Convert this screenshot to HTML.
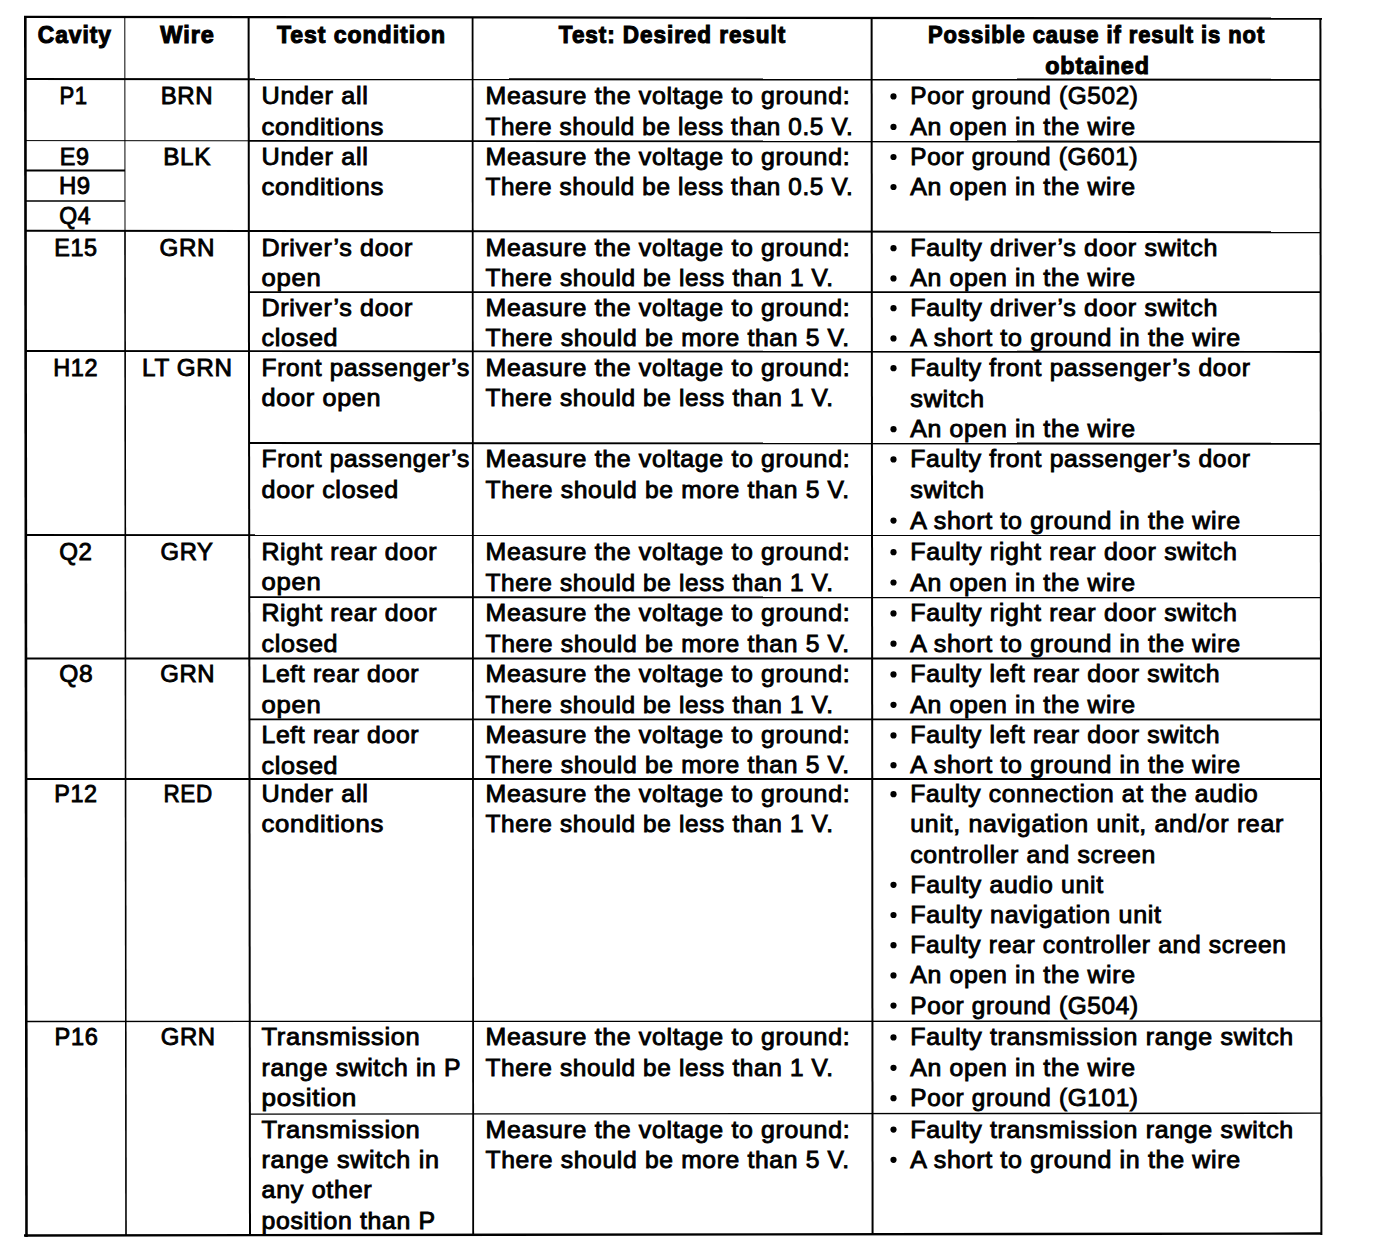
<!DOCTYPE html><html><head><meta charset="utf-8"><style>html,body{margin:0;padding:0;background:#fff;width:1376px;height:1254px;overflow:hidden}svg{display:block}text{font-family:"Liberation Sans",sans-serif;fill:#000;stroke:#000}</style></head><body>
<svg width="1376" height="1254" viewBox="0 0 1376 1254">
<g stroke="#000" fill="none">
<line x1="24" y1="16.8" x2="1322" y2="18.6" stroke-width="2.2"/>
<line x1="25" y1="79.0" x2="1321" y2="79.8" stroke-width="2.0"/>
<line x1="25" y1="140.6" x2="249" y2="140.8" stroke-width="1.0"/>
<line x1="249" y1="140.8" x2="1321" y2="141.8" stroke-width="1.8"/>
<line x1="25" y1="170.6" x2="125" y2="170.6" stroke-width="2.0"/>
<line x1="25" y1="201.0" x2="125" y2="201.0" stroke-width="1.6"/>
<line x1="25" y1="230.8" x2="1321" y2="232.2" stroke-width="2.0"/>
<line x1="249" y1="292.2" x2="1321" y2="292.2" stroke-width="1.8"/>
<line x1="25" y1="351.0" x2="1321" y2="352.0" stroke-width="1.8"/>
<line x1="249" y1="443.0" x2="1321" y2="443.8" stroke-width="1.9"/>
<line x1="25" y1="535.0" x2="1321" y2="535.2" stroke-width="1.8"/>
<line x1="249" y1="597.2" x2="1321" y2="597.4" stroke-width="1.8"/>
<line x1="25" y1="658.5" x2="1321" y2="658.5" stroke-width="1.8"/>
<line x1="249" y1="719.3" x2="1321" y2="719.5" stroke-width="1.8"/>
<line x1="25" y1="779.0" x2="1321" y2="779.0" stroke-width="1.8"/>
<line x1="25" y1="1021.5" x2="1321" y2="1021.2" stroke-width="1.3"/>
<line x1="250" y1="1114.2" x2="1321" y2="1113.2" stroke-width="1.3"/>
<line x1="24" y1="1235.5" x2="1322" y2="1233.5" stroke-width="2.4"/>
<line x1="25.3" y1="16" x2="26.5" y2="1237" stroke-width="2.6"/>
<line x1="124.8" y1="17" x2="125.0" y2="231" stroke-width="1.0"/>
<line x1="125.0" y1="231" x2="126.0" y2="1236" stroke-width="1.6"/>
<line x1="248.6" y1="17" x2="250.0" y2="1236" stroke-width="2.0"/>
<line x1="472.6" y1="17" x2="473.2" y2="1236" stroke-width="1.8"/>
<line x1="871.6" y1="18" x2="872.6" y2="1235" stroke-width="2.0"/>
<line x1="1320.4" y1="18" x2="1321.4" y2="1235" stroke-width="2.0"/>
</g><g fill="#000">
<circle cx="893.5" cy="96.4" r="3.1"/>
<circle cx="893.5" cy="126.9" r="3.1"/>
<circle cx="893.5" cy="157.0" r="3.1"/>
<circle cx="893.5" cy="187.0" r="3.1"/>
<circle cx="893.5" cy="248.2" r="3.1"/>
<circle cx="893.5" cy="278.4" r="3.1"/>
<circle cx="893.5" cy="308.2" r="3.1"/>
<circle cx="893.5" cy="338.4" r="3.1"/>
<circle cx="893.5" cy="368.2" r="3.1"/>
<circle cx="893.5" cy="429.2" r="3.1"/>
<circle cx="893.5" cy="459.4" r="3.1"/>
<circle cx="893.5" cy="520.6" r="3.1"/>
<circle cx="893.5" cy="552.2" r="3.1"/>
<circle cx="893.5" cy="582.5" r="3.1"/>
<circle cx="893.5" cy="613.4" r="3.1"/>
<circle cx="893.5" cy="643.7" r="3.1"/>
<circle cx="893.5" cy="674.4" r="3.1"/>
<circle cx="893.5" cy="704.8" r="3.1"/>
<circle cx="893.5" cy="735.4" r="3.1"/>
<circle cx="893.5" cy="765.2" r="3.1"/>
<circle cx="893.5" cy="794.2" r="3.1"/>
<circle cx="893.5" cy="884.8" r="3.1"/>
<circle cx="893.5" cy="915.0" r="3.1"/>
<circle cx="893.5" cy="945.2" r="3.1"/>
<circle cx="893.5" cy="975.4" r="3.1"/>
<circle cx="893.5" cy="1005.6" r="3.1"/>
<circle cx="893.5" cy="1037.4" r="3.1"/>
<circle cx="893.5" cy="1067.8" r="3.1"/>
<circle cx="893.5" cy="1098.2" r="3.1"/>
<circle cx="893.5" cy="1129.6" r="3.1"/>
<circle cx="893.5" cy="1159.8" r="3.1"/>
</g>
<g font-size="26" stroke-width="0.95">
<text transform="translate(74.85,42.50) scale(0.9500,1.0)" id="t0" text-anchor="middle" font-weight="bold" font-size="24" stroke-width="1.1" letter-spacing="1.0">Cavity</text>
<text transform="translate(187.60,42.50) scale(0.9782,1.0)" id="t1" text-anchor="middle" font-weight="bold" font-size="24" stroke-width="1.1" letter-spacing="1.0">Wire</text>
<text transform="translate(361.50,42.50) scale(0.9598,1.0)" id="t2" text-anchor="middle" font-weight="bold" font-size="24" stroke-width="1.1" letter-spacing="1.0">Test condition</text>
<text transform="translate(672.50,42.50) scale(0.9383,1.0)" id="t3" text-anchor="middle" font-weight="bold" font-size="24" stroke-width="1.1" letter-spacing="1.0">Test: Desired result</text>
<text transform="translate(1096.55,43.30) scale(0.9153,1.0)" id="t4" text-anchor="middle" font-weight="bold" font-size="24" stroke-width="1.1" letter-spacing="1.0">Possible cause if result is not</text>
<text transform="translate(1097.55,74.20) scale(0.9708,1.0)" id="t5" text-anchor="middle" font-weight="bold" font-size="24" stroke-width="1.1" letter-spacing="1.0">obtained</text>
<text transform="translate(73.55,104.40) scale(0.8500,0.95)" id="t6" text-anchor="middle" letter-spacing="0.7">P1</text>
<text transform="translate(187.00,104.40) scale(0.9245,0.95)" id="t7" text-anchor="middle" letter-spacing="0.7">BRN</text>
<text transform="translate(261.50,104.40) scale(0.9705,0.95)" id="t8" letter-spacing="0.7">Under all</text>
<text transform="translate(261.50,134.60) scale(0.9886,0.95)" id="t9" letter-spacing="0.7">conditions</text>
<text transform="translate(485.50,104.40) scale(0.9577,0.95)" id="t10" letter-spacing="0.7">Measure the voltage to ground:</text>
<text transform="translate(485.50,134.70) scale(0.9336,0.95)" id="t11" letter-spacing="0.7">There should be less than 0.5 V.</text>
<text transform="translate(910.30,104.40) scale(0.9367,0.95)" id="t12" letter-spacing="0.7">Poor ground (G502)</text>
<text transform="translate(910.30,134.90) scale(0.9557,0.95)" id="t13" letter-spacing="0.7">An open in the wire</text>
<text transform="translate(74.80,165.00) scale(0.9000,0.95)" id="t14" text-anchor="middle" letter-spacing="0.7">E9</text>
<text transform="translate(74.85,194.20) scale(0.9219,0.95)" id="t15" text-anchor="middle" letter-spacing="0.7">H9</text>
<text transform="translate(75.20,224.20) scale(0.8857,0.95)" id="t16" text-anchor="middle" letter-spacing="0.7">Q4</text>
<text transform="translate(187.20,165.00) scale(0.9347,0.95)" id="t17" text-anchor="middle" letter-spacing="0.7">BLK</text>
<text transform="translate(261.50,165.00) scale(0.9705,0.95)" id="t18" letter-spacing="0.7">Under all</text>
<text transform="translate(261.50,194.90) scale(0.9886,0.95)" id="t19" letter-spacing="0.7">conditions</text>
<text transform="translate(485.50,165.00) scale(0.9577,0.95)" id="t20" letter-spacing="0.7">Measure the voltage to ground:</text>
<text transform="translate(485.50,194.90) scale(0.9336,0.95)" id="t21" letter-spacing="0.7">There should be less than 0.5 V.</text>
<text transform="translate(910.30,165.00) scale(0.9346,0.95)" id="t22" letter-spacing="0.7">Poor ground (G601)</text>
<text transform="translate(910.30,195.00) scale(0.9557,0.95)" id="t23" letter-spacing="0.7">An open in the wire</text>
<text transform="translate(75.90,256.20) scale(0.8978,0.95)" id="t24" text-anchor="middle" letter-spacing="0.7">E15</text>
<text transform="translate(187.40,256.20) scale(0.9298,0.95)" id="t25" text-anchor="middle" letter-spacing="0.7">GRN</text>
<text transform="translate(261.50,256.20) scale(0.9655,0.95)" id="t26" letter-spacing="0.7">Driver’s door</text>
<text transform="translate(261.50,286.40) scale(0.9880,0.95)" id="t27" letter-spacing="0.7">open</text>
<text transform="translate(485.50,256.20) scale(0.9577,0.95)" id="t28" letter-spacing="0.7">Measure the voltage to ground:</text>
<text transform="translate(485.50,286.20) scale(0.9384,0.95)" id="t29" letter-spacing="0.7">There should be less than 1 V.</text>
<text transform="translate(910.30,256.20) scale(0.9622,0.95)" id="t30" letter-spacing="0.7">Faulty driver’s door switch</text>
<text transform="translate(910.30,286.40) scale(0.9557,0.95)" id="t31" letter-spacing="0.7">An open in the wire</text>
<text transform="translate(261.50,316.20) scale(0.9655,0.95)" id="t32" letter-spacing="0.7">Driver’s door</text>
<text transform="translate(261.50,346.40) scale(0.9665,0.95)" id="t33" letter-spacing="0.7">closed</text>
<text transform="translate(485.50,316.20) scale(0.9577,0.95)" id="t34" letter-spacing="0.7">Measure the voltage to ground:</text>
<text transform="translate(485.50,346.20) scale(0.9486,0.95)" id="t35" letter-spacing="0.7">There should be more than 5 V.</text>
<text transform="translate(910.30,316.20) scale(0.9622,0.95)" id="t36" letter-spacing="0.7">Faulty driver’s door switch</text>
<text transform="translate(910.30,346.40) scale(0.9615,0.95)" id="t37" letter-spacing="0.7">A short to ground in the wire</text>
<text transform="translate(75.65,376.20) scale(0.9043,0.95)" id="t38" text-anchor="middle" letter-spacing="0.7">H12</text>
<text transform="translate(187.35,376.20) scale(0.9323,0.95)" id="t39" text-anchor="middle" letter-spacing="0.7">LT GRN</text>
<text transform="translate(261.50,376.20) scale(0.9453,0.95)" id="t40" letter-spacing="0.7">Front passenger’s</text>
<text transform="translate(261.50,406.40) scale(0.9712,0.95)" id="t41" letter-spacing="0.7">door open</text>
<text transform="translate(485.50,376.20) scale(0.9577,0.95)" id="t42" letter-spacing="0.7">Measure the voltage to ground:</text>
<text transform="translate(485.50,406.20) scale(0.9384,0.95)" id="t43" letter-spacing="0.7">There should be less than 1 V.</text>
<text transform="translate(910.30,376.20) scale(0.9523,0.95)" id="t44" letter-spacing="0.7">Faulty front passenger’s door</text>
<text transform="translate(910.30,406.70) scale(0.9732,0.95)" id="t45" letter-spacing="0.7">switch</text>
<text transform="translate(910.30,437.20) scale(0.9557,0.95)" id="t46" letter-spacing="0.7">An open in the wire</text>
<text transform="translate(261.50,467.40) scale(0.9453,0.95)" id="t47" letter-spacing="0.7">Front passenger’s</text>
<text transform="translate(261.50,497.60) scale(0.9665,0.95)" id="t48" letter-spacing="0.7">door closed</text>
<text transform="translate(485.50,467.40) scale(0.9577,0.95)" id="t49" letter-spacing="0.7">Measure the voltage to ground:</text>
<text transform="translate(485.50,497.90) scale(0.9486,0.95)" id="t50" letter-spacing="0.7">There should be more than 5 V.</text>
<text transform="translate(910.30,467.40) scale(0.9523,0.95)" id="t51" letter-spacing="0.7">Faulty front passenger’s door</text>
<text transform="translate(910.30,498.00) scale(0.9732,0.95)" id="t52" letter-spacing="0.7">switch</text>
<text transform="translate(910.30,528.60) scale(0.9615,0.95)" id="t53" letter-spacing="0.7">A short to ground in the wire</text>
<text transform="translate(75.95,560.20) scale(0.9265,0.95)" id="t54" text-anchor="middle" letter-spacing="0.7">Q2</text>
<text transform="translate(187.10,560.20) scale(0.9143,0.95)" id="t55" text-anchor="middle" letter-spacing="0.7">GRY</text>
<text transform="translate(261.50,560.20) scale(0.9553,0.95)" id="t56" letter-spacing="0.7">Right rear door</text>
<text transform="translate(261.50,590.40) scale(0.9880,0.95)" id="t57" letter-spacing="0.7">open</text>
<text transform="translate(485.50,560.20) scale(0.9577,0.95)" id="t58" letter-spacing="0.7">Measure the voltage to ground:</text>
<text transform="translate(485.50,590.50) scale(0.9384,0.95)" id="t59" letter-spacing="0.7">There should be less than 1 V.</text>
<text transform="translate(910.30,560.20) scale(0.9596,0.95)" id="t60" letter-spacing="0.7">Faulty right rear door switch</text>
<text transform="translate(910.30,590.50) scale(0.9557,0.95)" id="t61" letter-spacing="0.7">An open in the wire</text>
<text transform="translate(261.50,621.40) scale(0.9553,0.95)" id="t62" letter-spacing="0.7">Right rear door</text>
<text transform="translate(261.50,651.60) scale(0.9665,0.95)" id="t63" letter-spacing="0.7">closed</text>
<text transform="translate(485.50,621.40) scale(0.9577,0.95)" id="t64" letter-spacing="0.7">Measure the voltage to ground:</text>
<text transform="translate(485.50,651.70) scale(0.9486,0.95)" id="t65" letter-spacing="0.7">There should be more than 5 V.</text>
<text transform="translate(910.30,621.40) scale(0.9596,0.95)" id="t66" letter-spacing="0.7">Faulty right rear door switch</text>
<text transform="translate(910.30,651.70) scale(0.9615,0.95)" id="t67" letter-spacing="0.7">A short to ground in the wire</text>
<text transform="translate(76.25,682.40) scale(0.9441,0.95)" id="t68" text-anchor="middle" letter-spacing="0.7">Q8</text>
<text transform="translate(187.70,682.40) scale(0.9193,0.95)" id="t69" text-anchor="middle" letter-spacing="0.7">GRN</text>
<text transform="translate(261.50,682.40) scale(0.9511,0.95)" id="t70" letter-spacing="0.7">Left rear door</text>
<text transform="translate(261.50,712.60) scale(0.9880,0.95)" id="t71" letter-spacing="0.7">open</text>
<text transform="translate(485.50,682.40) scale(0.9577,0.95)" id="t72" letter-spacing="0.7">Measure the voltage to ground:</text>
<text transform="translate(485.50,712.80) scale(0.9384,0.95)" id="t73" letter-spacing="0.7">There should be less than 1 V.</text>
<text transform="translate(910.30,682.40) scale(0.9557,0.95)" id="t74" letter-spacing="0.7">Faulty left rear door switch</text>
<text transform="translate(910.30,712.80) scale(0.9557,0.95)" id="t75" letter-spacing="0.7">An open in the wire</text>
<text transform="translate(261.50,743.40) scale(0.9511,0.95)" id="t76" letter-spacing="0.7">Left rear door</text>
<text transform="translate(261.50,773.60) scale(0.9665,0.95)" id="t77" letter-spacing="0.7">closed</text>
<text transform="translate(485.50,743.40) scale(0.9577,0.95)" id="t78" letter-spacing="0.7">Measure the voltage to ground:</text>
<text transform="translate(485.50,773.20) scale(0.9486,0.95)" id="t79" letter-spacing="0.7">There should be more than 5 V.</text>
<text transform="translate(910.30,743.40) scale(0.9557,0.95)" id="t80" letter-spacing="0.7">Faulty left rear door switch</text>
<text transform="translate(910.30,773.20) scale(0.9615,0.95)" id="t81" letter-spacing="0.7">A short to ground in the wire</text>
<text transform="translate(75.90,802.20) scale(0.8978,0.95)" id="t82" text-anchor="middle" letter-spacing="0.7">P12</text>
<text transform="translate(188.10,802.20) scale(0.8630,0.95)" id="t83" text-anchor="middle" letter-spacing="0.7">RED</text>
<text transform="translate(261.50,802.20) scale(0.9705,0.95)" id="t84" letter-spacing="0.7">Under all</text>
<text transform="translate(261.50,832.40) scale(0.9886,0.95)" id="t85" letter-spacing="0.7">conditions</text>
<text transform="translate(485.50,802.20) scale(0.9577,0.95)" id="t86" letter-spacing="0.7">Measure the voltage to ground:</text>
<text transform="translate(485.50,832.10) scale(0.9384,0.95)" id="t87" letter-spacing="0.7">There should be less than 1 V.</text>
<text transform="translate(910.30,802.20) scale(0.9466,0.95)" id="t88" letter-spacing="0.7">Faulty connection at the audio</text>
<text transform="translate(910.30,832.40) scale(0.9599,0.95)" id="t89" letter-spacing="0.7">unit, navigation unit, and/or rear</text>
<text transform="translate(910.30,862.60) scale(0.9539,0.95)" id="t90" letter-spacing="0.7">controller and screen</text>
<text transform="translate(910.30,892.80) scale(0.9551,0.95)" id="t91" letter-spacing="0.7">Faulty audio unit</text>
<text transform="translate(910.30,923.00) scale(0.9628,0.95)" id="t92" letter-spacing="0.7">Faulty navigation unit</text>
<text transform="translate(910.30,953.20) scale(0.9477,0.95)" id="t93" letter-spacing="0.7">Faulty rear controller and screen</text>
<text transform="translate(910.30,983.40) scale(0.9557,0.95)" id="t94" letter-spacing="0.7">An open in the wire</text>
<text transform="translate(910.30,1013.60) scale(0.9371,0.95)" id="t95" letter-spacing="0.7">Poor ground (G504)</text>
<text transform="translate(76.50,1045.40) scale(0.9067,0.95)" id="t96" text-anchor="middle" letter-spacing="0.7">P16</text>
<text transform="translate(188.20,1045.40) scale(0.9193,0.95)" id="t97" text-anchor="middle" letter-spacing="0.7">GRN</text>
<text transform="translate(261.50,1045.40) scale(0.9813,0.95)" id="t98" letter-spacing="0.7">Transmission</text>
<text transform="translate(261.50,1075.60) scale(0.9516,0.95)" id="t99" letter-spacing="0.7">range switch in P</text>
<text transform="translate(261.50,1105.80) scale(1.0043,0.95)" id="t100" letter-spacing="0.7">position</text>
<text transform="translate(485.50,1045.40) scale(0.9577,0.95)" id="t101" letter-spacing="0.7">Measure the voltage to ground:</text>
<text transform="translate(485.50,1075.80) scale(0.9384,0.95)" id="t102" letter-spacing="0.7">There should be less than 1 V.</text>
<text transform="translate(910.30,1045.40) scale(0.9603,0.95)" id="t103" letter-spacing="0.7">Faulty transmission range switch</text>
<text transform="translate(910.30,1075.80) scale(0.9557,0.95)" id="t104" letter-spacing="0.7">An open in the wire</text>
<text transform="translate(910.30,1106.20) scale(0.9367,0.95)" id="t105" letter-spacing="0.7">Poor ground (G101)</text>
<text transform="translate(261.50,1137.60) scale(0.9813,0.95)" id="t106" letter-spacing="0.7">Transmission</text>
<text transform="translate(261.50,1167.90) scale(0.9688,0.95)" id="t107" letter-spacing="0.7">range switch in</text>
<text transform="translate(261.50,1198.20) scale(0.9668,0.95)" id="t108" letter-spacing="0.7">any other</text>
<text transform="translate(261.50,1228.50) scale(0.9548,0.95)" id="t109" letter-spacing="0.7">position than P</text>
<text transform="translate(485.50,1137.60) scale(0.9577,0.95)" id="t110" letter-spacing="0.7">Measure the voltage to ground:</text>
<text transform="translate(485.50,1167.60) scale(0.9486,0.95)" id="t111" letter-spacing="0.7">There should be more than 5 V.</text>
<text transform="translate(910.30,1137.60) scale(0.9603,0.95)" id="t112" letter-spacing="0.7">Faulty transmission range switch</text>
<text transform="translate(910.30,1167.80) scale(0.9615,0.95)" id="t113" letter-spacing="0.7">A short to ground in the wire</text>
</g></svg></body></html>
